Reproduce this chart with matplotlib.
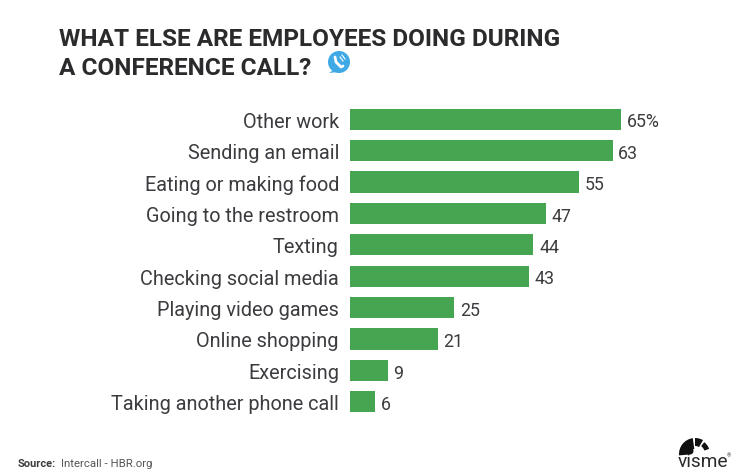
#!/usr/bin/env python
# -*- coding: utf-8 -*-

import matplotlib
matplotlib.use('Agg')
import matplotlib.pyplot as plt
from matplotlib.patches import Circle, Polygon, Wedge

activities = [
    'Other work',
    'Sending an email',
    'Eating or making food',
    'Going to the restroom',
    'Texting',
    'Checking social media',
    'Playing video games',
    'Online shopping',
    'Exercising',
    'Taking another phone call',
]
shares = [65, 63, 55, 47, 44, 43, 25, 21, 9, 6]
share_labels = ['65%', '63', '55', '47', '44', '43', '25', '21', '9', '6']

W, H = 747, 477
GREEN = '#45a550'
DARK = '#2b2b2d'
GREY = '#3c3c40'


def px(x, y):
    # pixel position, top left origin -> figure fraction
    return x / W, 1 - y / H


def main():
    plt.rcParams['font.family'] = ['Roboto', 'DejaVu Sans']
    fig = plt.figure(figsize = (W / 100, H / 100), dpi = 100, facecolor = 'white')

    # axes cover the rows, 31.4 px per row, 4.17 px per percent
    x0, y_top = px(350, 104.5)
    _, y_bot = px(350, 418.5)
    ax = fig.add_axes([x0, y_bot, 271 / W * 100 / 65, y_top - y_bot])
    ax.barh(activities, shares, height = 0.67, color = GREEN)
    ax.set_xlim(0, 100)
    ax.set_ylim(len(activities) - 0.5, -0.5)
    for s in ax.spines.values():
        s.set_visible(False)
    ax.patch.set_visible(False)
    ax.xaxis.set_visible(False)
    ax.tick_params(axis = 'y', length = 0, pad = 8, labelsize = 14.35, labelcolor = GREY)
    for label in ax.get_yticklabels():
        label.set_verticalalignment('center_baseline')

    for i, (v, t) in enumerate(zip(shares, share_labels)):
        ax.annotate(t, (v, i), xytext = (4, -5.2), textcoords = 'offset points',
                    va = 'baseline', ha = 'left', fontsize = 12.8,
                    color = GREY)

    # title
    fig.text(*px(59, 46), 'WHAT ELSE ARE EMPLOYEES DOING DURING', fontsize = 17.55,
             fontweight = 'bold', color = DARK, va = 'baseline')
    fig.text(*px(59, 75), 'A CONFERENCE CALL?', fontsize = 17.55,
             fontweight = 'bold', color = DARK, va = 'baseline')

    # source
    fig.text(*px(18, 467), 'Source:', fontsize = 8, fontweight = 'bold',
             color = GREY, va = 'baseline')
    fig.text(*px(61, 467), 'Intercall - HBR.org', fontsize = 8.2,
             color = '#55555a', va = 'baseline')

    # overlay in pixel coords for the little icons
    ov = fig.add_axes([0, 0, 1, 1])
    ov.set_xlim(0, W)
    ov.set_ylim(H, 0)
    ov.axis('off')

    # phone bubble
    ov.add_patch(Circle((339, 63), 11, color = '#3fa9e6', lw = 0))
    ov.add_patch(Polygon([(329, 74), (335, 70), (338, 73)], color = '#3fa9e6', lw = 0))
    ov.plot([335, 336, 341, 343], [58, 63, 68, 67], color = 'white', lw = 2, solid_capstyle = 'round')
    ov.plot([340, 343], [58, 62], color = 'white', lw = 0.8)
    ov.plot([342, 345], [56, 60], color = 'white', lw = 0.8)

    # visme logo
    ov.add_patch(Wedge((695, 455), 16, 175, 262, width = 11, color = '#111111', lw = 0))
    ov.add_patch(Wedge((695, 455), 16, 270, 300, width = 8, color = '#111111', lw = 0))
    ov.add_patch(Wedge((695, 455), 15, 308, 340, width = 5, color = '#111111', lw = 0))
    ov.add_patch(Circle((690, 452), 3.5, color = '#111111', lw = 0))
    ov.text(678, 467, 'visme', fontsize = 13.8, color = '#2a2a2a', va = 'baseline', ha = 'left')
    ov.text(727, 457, '®', fontsize = 4, color = '#2a2a2a', va = 'baseline', ha = 'left')

    fig.savefig('out.png', dpi = 100)


if __name__ == "__main__":
    main()
